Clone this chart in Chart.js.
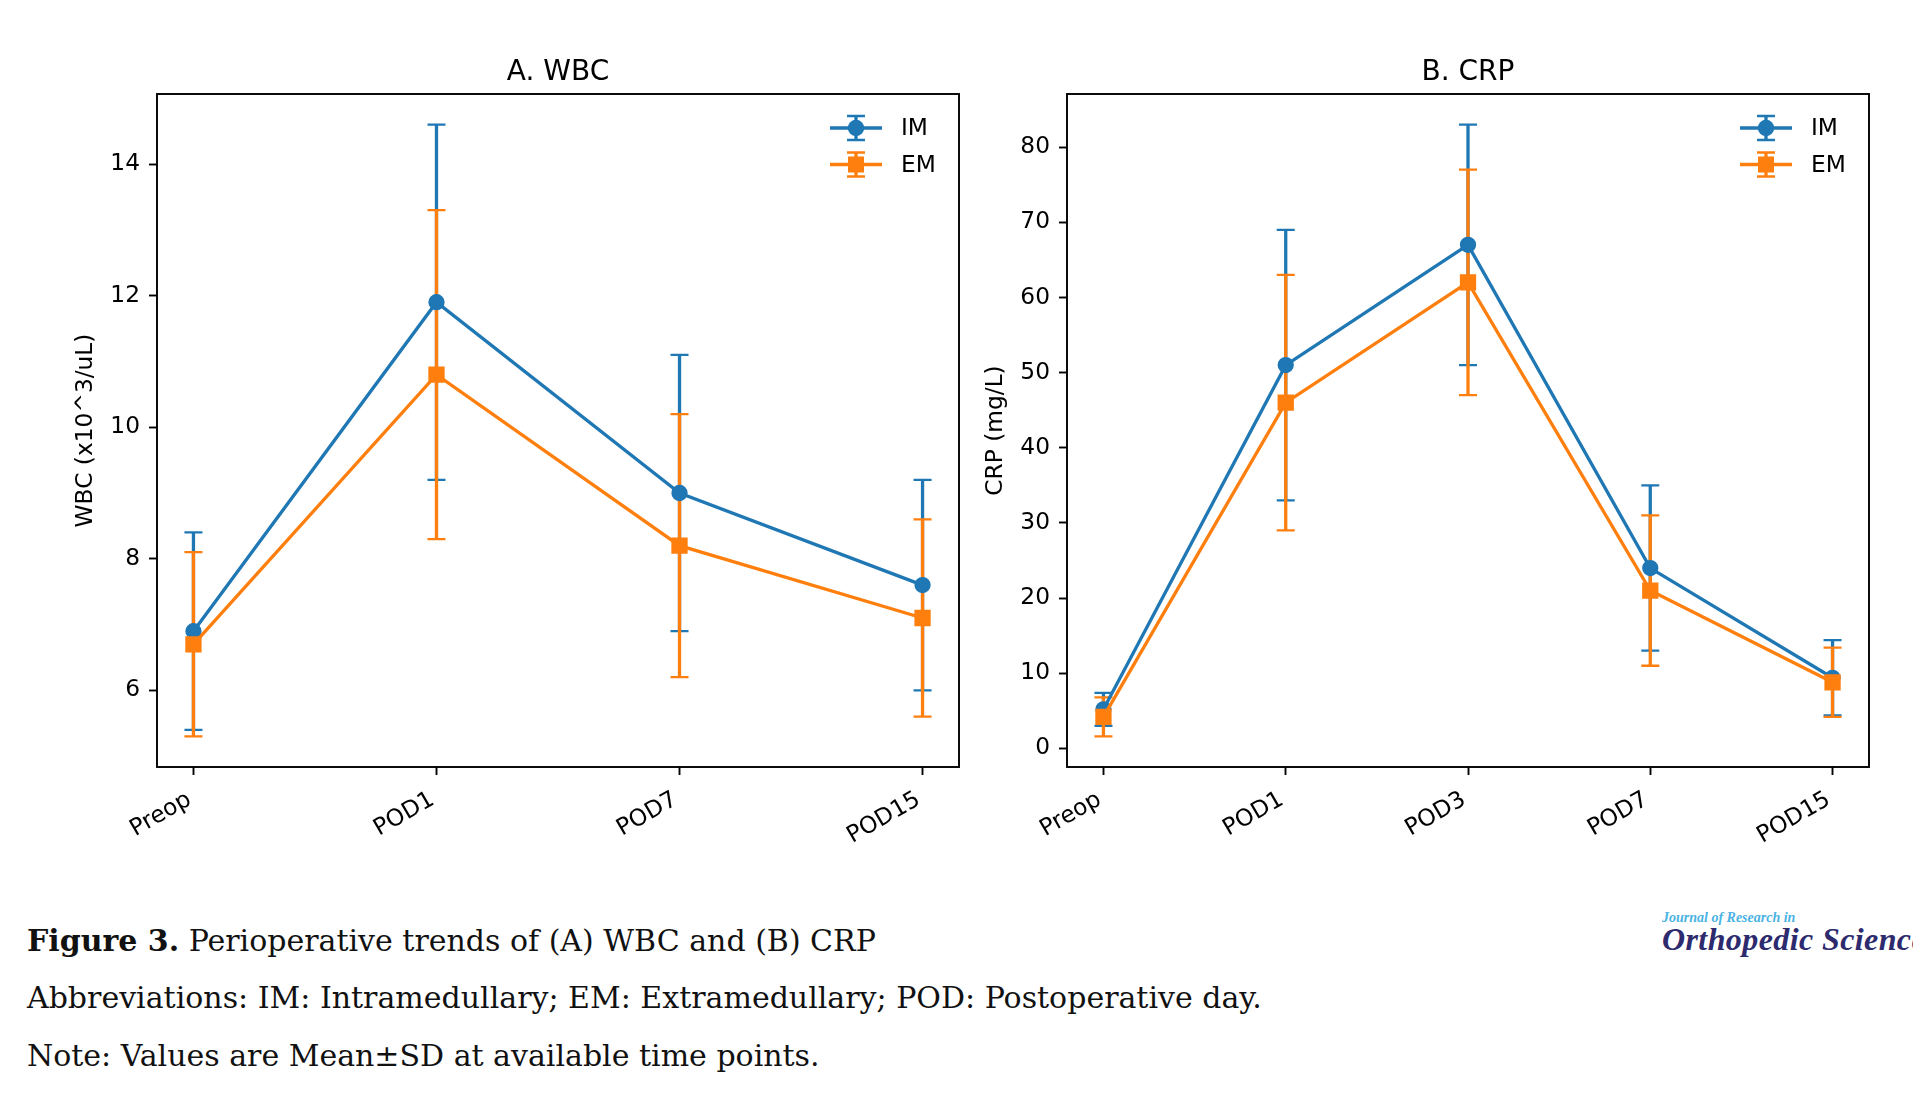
<!DOCTYPE html>
<html>
<head>
<meta charset="utf-8">
<script src="https://cdn.jsdelivr.net/npm/chart.js@4.4.0/dist/chart.umd.min.js"></script>
<style>
  body { margin: 0; background: #fff; width: 1913px; height: 1100px; overflow: hidden; position: relative; }
  .box { position: absolute; top: 0; height: 880px; }
  #wbcBox { left: 0; width: 980px; }
  #crpBox { left: 980px; width: 933px; }
  .cap { position: absolute; left: 27px; font-family: 'DejaVu Serif', serif; font-size: 30px; line-height: 30px; color: #111; white-space: nowrap; }
  .logo { position: absolute; font-family: 'Liberation Serif', serif; font-style: italic; font-weight: bold; white-space: nowrap; }
</style>
</head>
<body>
<div class="box" id="wbcBox"><canvas id="wbcChart"></canvas></div>
<div class="box" id="crpBox"><canvas id="crpChart"></canvas></div>

<div class="cap" style="top:926px"><b>Figure 3.</b> Perioperative trends of (A) WBC and (B) CRP</div>
<div class="cap" style="top:983px">Abbreviations: IM: Intramedullary; EM: Extramedullary; POD: Postoperative day.</div>
<div class="cap" style="top:1041px">Note: Values are Mean±SD at available time points.</div>

<div class="logo" style="left:1662px; top:911px; font-size:14px; line-height:14px; color:#49b3e3;">Journal of Research in</div>
<div class="logo" style="left:1662px; top:923px; font-size:32px; line-height:32px; letter-spacing:0.4px; color:#2d2a6e;">Orthopedic Science</div>

<script>
// WBC (x10^3/uL), mean and SD
const wbcLabels = ['Preop', 'POD1', 'POD7', 'POD15'];
const wbcImMean = [6.9, 11.9, 9.0, 7.6];
const wbcImSd   = [1.5, 2.7, 2.1, 1.6];
const wbcEmMean = [6.7, 10.8, 8.2, 7.1];
const wbcEmSd   = [1.4, 2.5, 2.0, 1.5];
const wbcTicks  = [6, 8, 10, 12, 14];

// CRP (mg/L), mean and SD
const crpLabels = ['Preop', 'POD1', 'POD3', 'POD7', 'POD15'];
const crpImMean = [5.2, 51, 67, 24, 9.4];
const crpImSd   = [2.2, 18, 16, 11, 5.0];
const crpEmMean = [4.2, 46, 62, 21, 8.8];
const crpEmSd   = [2.6, 17, 15, 10, 4.6];
const crpTicks  = [0, 10, 20, 30, 40, 50, 60, 70, 80];

const blue = '#1f77b4';
const orange = '#ff7f0e';
const FONT = 'DejaVu Sans';

Chart.defaults.font.family = FONT;
Chart.defaults.color = '#000';

function toPoints(means) {
    return means.map((v, i) => ({ x: i, y: v }));
}

// axis range like matplotlib autoscale (5% margin around mean±sd)
function axisRange(pairs) {
    let lo = Infinity, hi = -Infinity;
    pairs.forEach(([m, s]) => m.forEach((v, i) => {
        lo = Math.min(lo, v - s[i]);
        hi = Math.max(hi, v + s[i]);
    }));
    const pad = (hi - lo) * 0.05;
    return [lo - pad, hi + pad];
}

const errorBarPlugin = {
    id: 'errorBars',
    beforeDatasetsDraw(chart) {
        const { ctx, scales: { x, y } } = chart;
        ctx.save();
        chart.data.datasets.forEach(ds => {
            ctx.strokeStyle = ds.borderColor;
            ds.data.forEach((p, i) => {
                const px = x.getPixelForValue(p.x);
                const top = y.getPixelForValue(p.y + ds.sd[i]);
                const bot = y.getPixelForValue(p.y - ds.sd[i]);
                ctx.lineWidth = 3.3;
                ctx.beginPath();
                ctx.moveTo(px, top);
                ctx.lineTo(px, bot);
                ctx.stroke();
                ctx.lineWidth = 2.3;
                ctx.beginPath();
                ctx.moveTo(px - 9, top); ctx.lineTo(px + 9, top);
                ctx.moveTo(px - 9, bot); ctx.lineTo(px + 9, bot);
                ctx.stroke();
            });
        });
        ctx.restore();
    },
    afterDraw(chart) {
        const { ctx, chartArea: a } = chart;
        ctx.save();
        // axes frame
        ctx.strokeStyle = '#000';
        ctx.lineWidth = 1.9;
        ctx.strokeRect(a.left, a.top, a.right - a.left, a.bottom - a.top);

        // legend, upper right inside the axes
        chart.data.datasets.forEach((ds, k) => {
            const cy = a.top + 34 + k * 36.5;
            const cx = a.right - 103;
            ctx.strokeStyle = ds.borderColor;
            ctx.fillStyle = ds.borderColor;
            ctx.lineWidth = 3.3;
            ctx.beginPath();
            ctx.moveTo(a.right - 129, cy); ctx.lineTo(a.right - 77, cy);
            ctx.moveTo(cx, cy - 12); ctx.lineTo(cx, cy + 12);
            ctx.stroke();
            ctx.lineWidth = 2.3;
            ctx.beginPath();
            ctx.moveTo(cx - 9, cy - 12); ctx.lineTo(cx + 9, cy - 12);
            ctx.moveTo(cx - 9, cy + 12); ctx.lineTo(cx + 9, cy + 12);
            ctx.stroke();
            if (ds.pointStyle === 'rect') {
                ctx.fillRect(cx - 8, cy - 8, 16, 16);
            } else {
                ctx.beginPath();
                ctx.arc(cx, cy, 8.2, 0, Math.PI * 2);
                ctx.fill();
            }
            ctx.fillStyle = '#000';
            ctx.font = '23.3px ' + FONT;
            ctx.textBaseline = 'middle';
            ctx.textAlign = 'left';
            ctx.fillText(ds.label, a.right - 58, cy + 1);
        });
        ctx.restore();
    }
};

function makeChart(id, title, labels, yTitle, yTicks, im, imSd, em, emSd, opts) {
    const [yMin, yMax] = axisRange([[im, imSd], [em, emSd]]);
    const xPad = (labels.length - 1) * 0.05;
    const ctx = document.getElementById(id).getContext('2d');
    return new Chart(ctx, {
        type: 'line',
        data: {
            datasets: [{
                label: 'IM',
                data: toPoints(im),
                sd: imSd,
                borderColor: blue,
                backgroundColor: blue,
                borderWidth: 3.3,
                pointStyle: 'circle',
                pointRadius: 7,
                pointBorderWidth: 2.3,
                order: 2
            }, {
                label: 'EM',
                data: toPoints(em),
                sd: emSd,
                borderColor: orange,
                backgroundColor: orange,
                borderWidth: 3.3,
                pointStyle: 'rect',
                pointRadius: 9.9,
                pointBorderWidth: 2.3,
                order: 1
            }]
        },
        options: {
            responsive: true,
            maintainAspectRatio: false,
            animation: false,
            layout: { padding: { left: 0, right: opts.padRight, top: 0, bottom: 0 } },
            plugins: {
                legend: { display: false },
                tooltip: { enabled: false },
                title: {
                    display: true,
                    fullSize: false,
                    text: title,
                    font: { size: 28, weight: 'normal' },
                    padding: { top: 56, bottom: 4.4 }
                }
            },
            scales: {
                x: {
                    type: 'linear',
                    min: -xPad,
                    max: labels.length - 1 + xPad,
                    bounds: 'data',
                    offset: false,
                    border: { display: false },
                    grid: { drawOnChartArea: false, drawTicks: true, tickLength: 8, tickWidth: 1.9, tickColor: '#000' },
                    ticks: {
                        autoSkip: false,
                        minRotation: 30,
                        maxRotation: 30,
                        padding: 11,
                        labelOffset: -4,
                        font: { size: 23.3 },
                        callback: v => labels[v]
                    },
                    afterBuildTicks: s => { s.ticks = labels.map((_, i) => ({ value: i })); },
                    afterFit: s => { s.height = 113; }
                },
                y: {
                    type: 'linear',
                    min: yMin,
                    max: yMax,
                    bounds: 'data',
                    border: { display: false },
                    grid: { drawOnChartArea: false, drawTicks: true, tickLength: 8, tickWidth: 1.9, tickColor: '#000' },
                    ticks: {
                        padding: 9,
                        font: { size: 23.3 }
                    },
                    afterBuildTicks: s => { s.ticks = yTicks.map(v => ({ value: v })); },
                    title: {
                        display: true,
                        text: yTitle,
                        font: { size: 23.3 },
                        padding: { top: opts.yTitlePad, bottom: 0 }
                    },
                    afterFit: s => { s.width = opts.yWidth; }
                }
            }
        },
        plugins: [errorBarPlugin]
    });
}

makeChart('wbcChart', 'A. WBC', wbcLabels, 'WBC (x10^3/uL)', wbcTicks,
    wbcImMean, wbcImSd, wbcEmMean, wbcEmSd,
    { yWidth: 157, yTitlePad: 72, padRight: 21 });

makeChart('crpChart', 'B. CRP', crpLabels, 'CRP (mg/L)', crpTicks,
    crpImMean, crpImSd, crpEmMean, crpEmSd,
    { yWidth: 87, yTitlePad: 2, padRight: 44 });
</script>
</body>
</html>
